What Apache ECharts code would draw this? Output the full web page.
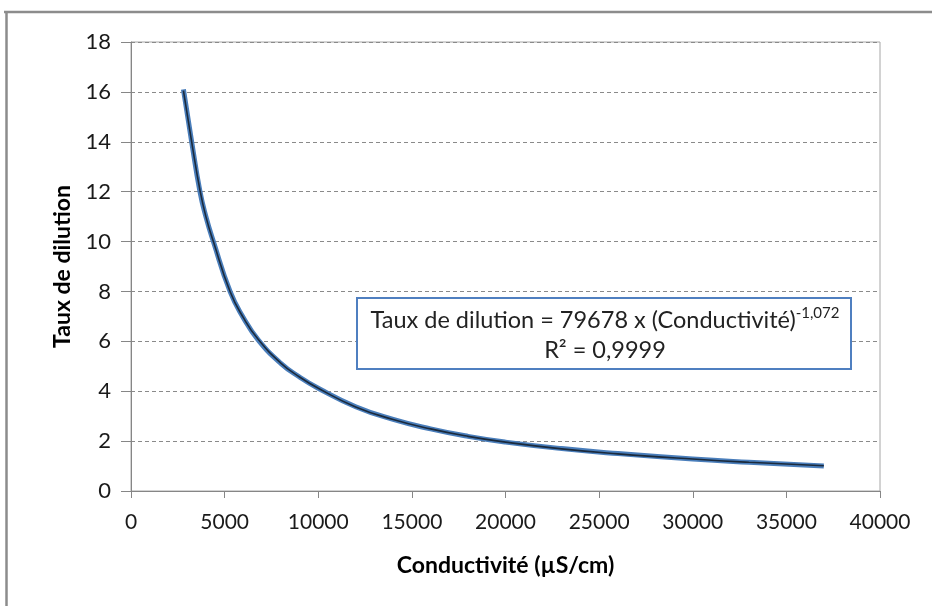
<!DOCTYPE html>
<html>
<head>
<meta charset="utf-8">
<script src="https://cdn.jsdelivr.net/npm/echarts@6/dist/echarts.min.js"></script>
<style>
html, body { margin: 0; padding: 0; background: #fff; }
#main { width: 932px; height: 606px; }
</style>
</head>
<body>
<div id="main"></div>
<script>
// conductivité (µS/cm) et taux de dilution
var conductivite = [2800, 3240, 3685, 4000, 4400, 5290, 6000, 6800, 8000, 9000, 10000, 12000, 14000, 16000, 18000, 20000, 23000, 26000, 30000, 33000, 37000];
var taux = [16.1, 14.0, 12.0, 11.0, 10.0, 8.0, 6.95, 6.05, 5.12, 4.57, 4.12, 3.38, 2.87, 2.49, 2.19, 1.96, 1.7, 1.5, 1.28, 1.15, 1.0];
// courbe de tendance (puissance)
var tendance = [16.05, 14.0, 12.05, 11.0, 10.0, 8.0, 6.95, 6.07, 5.13, 4.57, 4.12, 3.37, 2.87, 2.49, 2.19, 1.96, 1.69, 1.49, 1.28, 1.15, 1.01];

var chart = echarts.init(document.getElementById('main'));

function pts (ys) {
  return conductivite.map(function (x, i) { return [x, ys[i]]; });
}

var option = {
  animation: false,
  grid: { left: 131, right: 52, top: 42, bottom: 115, show: true, borderColor: '#a6a6a6', borderWidth: 1 },
  xAxis: {
    type: 'value', min: 0, max: 40000, interval: 5000,
    name: 'Conductivité (µS/cm)', nameLocation: 'middle', nameGap: 63,
    nameTextStyle: { fontFamily: 'Lato', fontWeight: 'bold', fontSize: 23, color: '#000' },
    axisLine: { lineStyle: { color: '#868686', width: 1 } },
    axisTick: { show: true, length: 7, lineStyle: { color: '#868686' } },
    axisLabel: { fontFamily: 'Lato', fontSize: 21, color: '#1a1a1a', margin: 21, formatter: function (v) { return String(v); } },
    splitLine: { show: false }
  },
  yAxis: {
    type: 'value', min: 0, max: 18, interval: 2,
    name: 'Taux de dilution', nameLocation: 'middle', nameGap: 57, nameRotate: 90,
    nameTextStyle: { fontFamily: 'Lato', fontWeight: 'bold', fontSize: 23, color: '#000' },
    axisLine: { show: true, lineStyle: { color: '#868686', width: 1 } },
    axisTick: { show: true, inside: false, length: 10, lineStyle: { color: '#868686' } },
    axisLabel: { fontFamily: 'Lato', fontSize: 22, color: '#1a1a1a', margin: 20 },
    splitLine: { lineStyle: { color: '#8a8a8a', type: [4, 3], width: 1 } }
  },
  series: [
    {
      name: 'Taux de dilution', type: 'line', data: pts(taux), smooth: 0.5,
      showSymbol: false, lineStyle: { color: '#4a7ebb', width: 5 }, z: 2
    },
    {
      name: 'Tendance', type: 'line', data: pts(tendance), smooth: 0.5,
      showSymbol: false, lineStyle: { color: '#1b2a3c', width: 1.6 }, z: 3
    }
  ],
  graphic: [
    // cadre extérieur
    { type: 'line', shape: { x1: 4, y1: 12, x2: 932, y2: 12 }, style: { stroke: '#8c8c8c', lineWidth: 2.5 } },
    { type: 'line', shape: { x1: 6.5, y1: 11, x2: 6.5, y2: 606 }, style: { stroke: '#8c8c8c', lineWidth: 2.5 } },
    // étiquette de l'équation
    {
      type: 'rect', shape: { x: 357, y: 298, width: 494, height: 71 },
      style: { fill: '#fff', stroke: '#4f7fc0', lineWidth: 2 }, z: 10
    },
    {
      type: 'text', x: 605, y: 320, z: 11,
      style: {
        text: '{m|Taux de dilution = 79678 x (Conductivité)}{s|-1,072}',
        align: 'center', verticalAlign: 'middle',
        rich: {
          m: { fontFamily: 'Lato', fontSize: 23.5, fill: '#222' },
          s: { fontFamily: 'Lato', fontSize: 15, fill: '#222', padding: [0, 0, 13, 0] }
        }
      }
    },
    {
      type: 'text', x: 605, y: 350, z: 11,
      style: { text: 'R² = 0,9999', align: 'center', verticalAlign: 'middle', fontFamily: 'Lato', fontSize: 23.5, fill: '#222' }
    }
  ]
};

chart.setOption(option);
</script>
</body>
</html>
